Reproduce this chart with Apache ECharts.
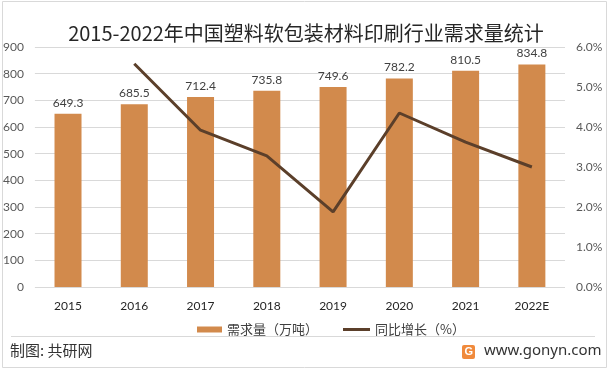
<!DOCTYPE html>
<html><head><meta charset="utf-8">
<script src="https://cdn.jsdelivr.net/npm/echarts@6/dist/echarts.min.js"></script>
<style>html,body{margin:0;padding:0;background:#fff}#c{width:612px;height:371px}</style>
</head><body><div id="c"></div>
<script>
var categories = ['2015','2016','2017','2018','2019','2020','2021','2022E'];
var demand = [649.3, 685.5, 712.4, 735.8, 749.6, 782.2, 810.5, 834.8];
var growth = [null, 5.58, 3.92, 3.28, 1.88, 4.35, 3.62, 3.00];
var leftTicks = {min:0, max:900, interval:100};
var rightTicks = {min:0, max:6, interval:1};
var F = "Lato, 'Noto Sans CJK SC', sans-serif";
var CJK = "'Noto Sans CJK SC', sans-serif";
var chart = echarts.init(document.getElementById('c'));
chart.setOption({
  animation:false,
  title:{text:'2015-2022年中国塑料软包装材料印刷行业需求量统计', left:'center', top:18,
    textStyle:{fontFamily:CJK, fontWeight:'normal', fontSize:20, color:'#262626'}},
  grid:{left:34, right:47, top:47, bottom:84},
  legend:[
    {left:192, top:318, itemWidth:25, itemHeight:6, itemGap:5,
      textStyle:{fontFamily:CJK, fontSize:13, color:'#404040'},
      data:[{name:'需求量（万吨）', icon:'rect'}]},
    {left:338, top:318, itemWidth:27, itemHeight:3, itemGap:5,
      textStyle:{fontFamily:CJK, fontSize:13, color:'#404040'},
      data:[{name:'同比增长（%）', icon:'rect'}]}
  ],
  xAxis:{type:'category', data:categories, axisLine:{show:false}, axisTick:{show:false},
    axisLabel:{fontFamily:F, fontSize:12, color:'#262626', margin:13}},
  yAxis:[
    {type:'value', min:leftTicks.min, max:leftTicks.max, interval:leftTicks.interval,
      axisLabel:{fontFamily:F, fontSize:12, color:'#595959', margin:11},
      splitLine:{lineStyle:{color:'#d9d9d9'}}, axisLine:{show:false}},
    {type:'value', min:rightTicks.min, max:rightTicks.max, interval:rightTicks.interval,
      axisLabel:{fontFamily:F, fontSize:12, color:'#595959', margin:11, formatter:function(v){return v.toFixed(1)+'%';}},
      splitLine:{show:false}, axisLine:{show:false}}
  ],
  series:[
    {name:'需求量（万吨）', type:'bar', data:demand, barWidth:27, itemStyle:{color:'#D28A4C'},
      label:{show:true, position:'top', distance:5, fontFamily:F, fontSize:12, color:'#404040',
        formatter:function(p){return p.value.toFixed(1);}}},
    {name:'同比增长（%）', type:'line', yAxisIndex:1, data:growth, symbol:'none', connectNulls:false,
      lineStyle:{color:'#5B3F2A', width:3}, itemStyle:{color:'#5B3F2A'}}
  ],
  graphic:[
    {type:'rect', shape:{x:2.5, y:1.5, width:604, height:366}, style:{fill:'none', stroke:'#d9d9d9', lineWidth:1}, silent:true},
    {type:'line', shape:{x1:11, y1:336.5, x2:595, y2:336.5}, style:{stroke:'#d9d9d9', lineWidth:1}},
    {type:'text', left:10, top:343, style:{text:'制图: 共研网', font:"15px 'Noto Sans CJK SC'", fill:'#333'}},
    {type:'rect', shape:{x:462, y:345, width:13, height:14, r:2}, style:{fill:'#F08A3C'}},
    {type:'text', left:464.5, top:346, style:{text:'G', font:"bold 11px 'Liberation Sans'", fill:'#fff'}},
    {type:'text', left:484, top:343, style:{text:'www.gonyn.com', font:"15px 'Noto Sans'", fill:'#333'}}
  ]
});
</script></body></html>
